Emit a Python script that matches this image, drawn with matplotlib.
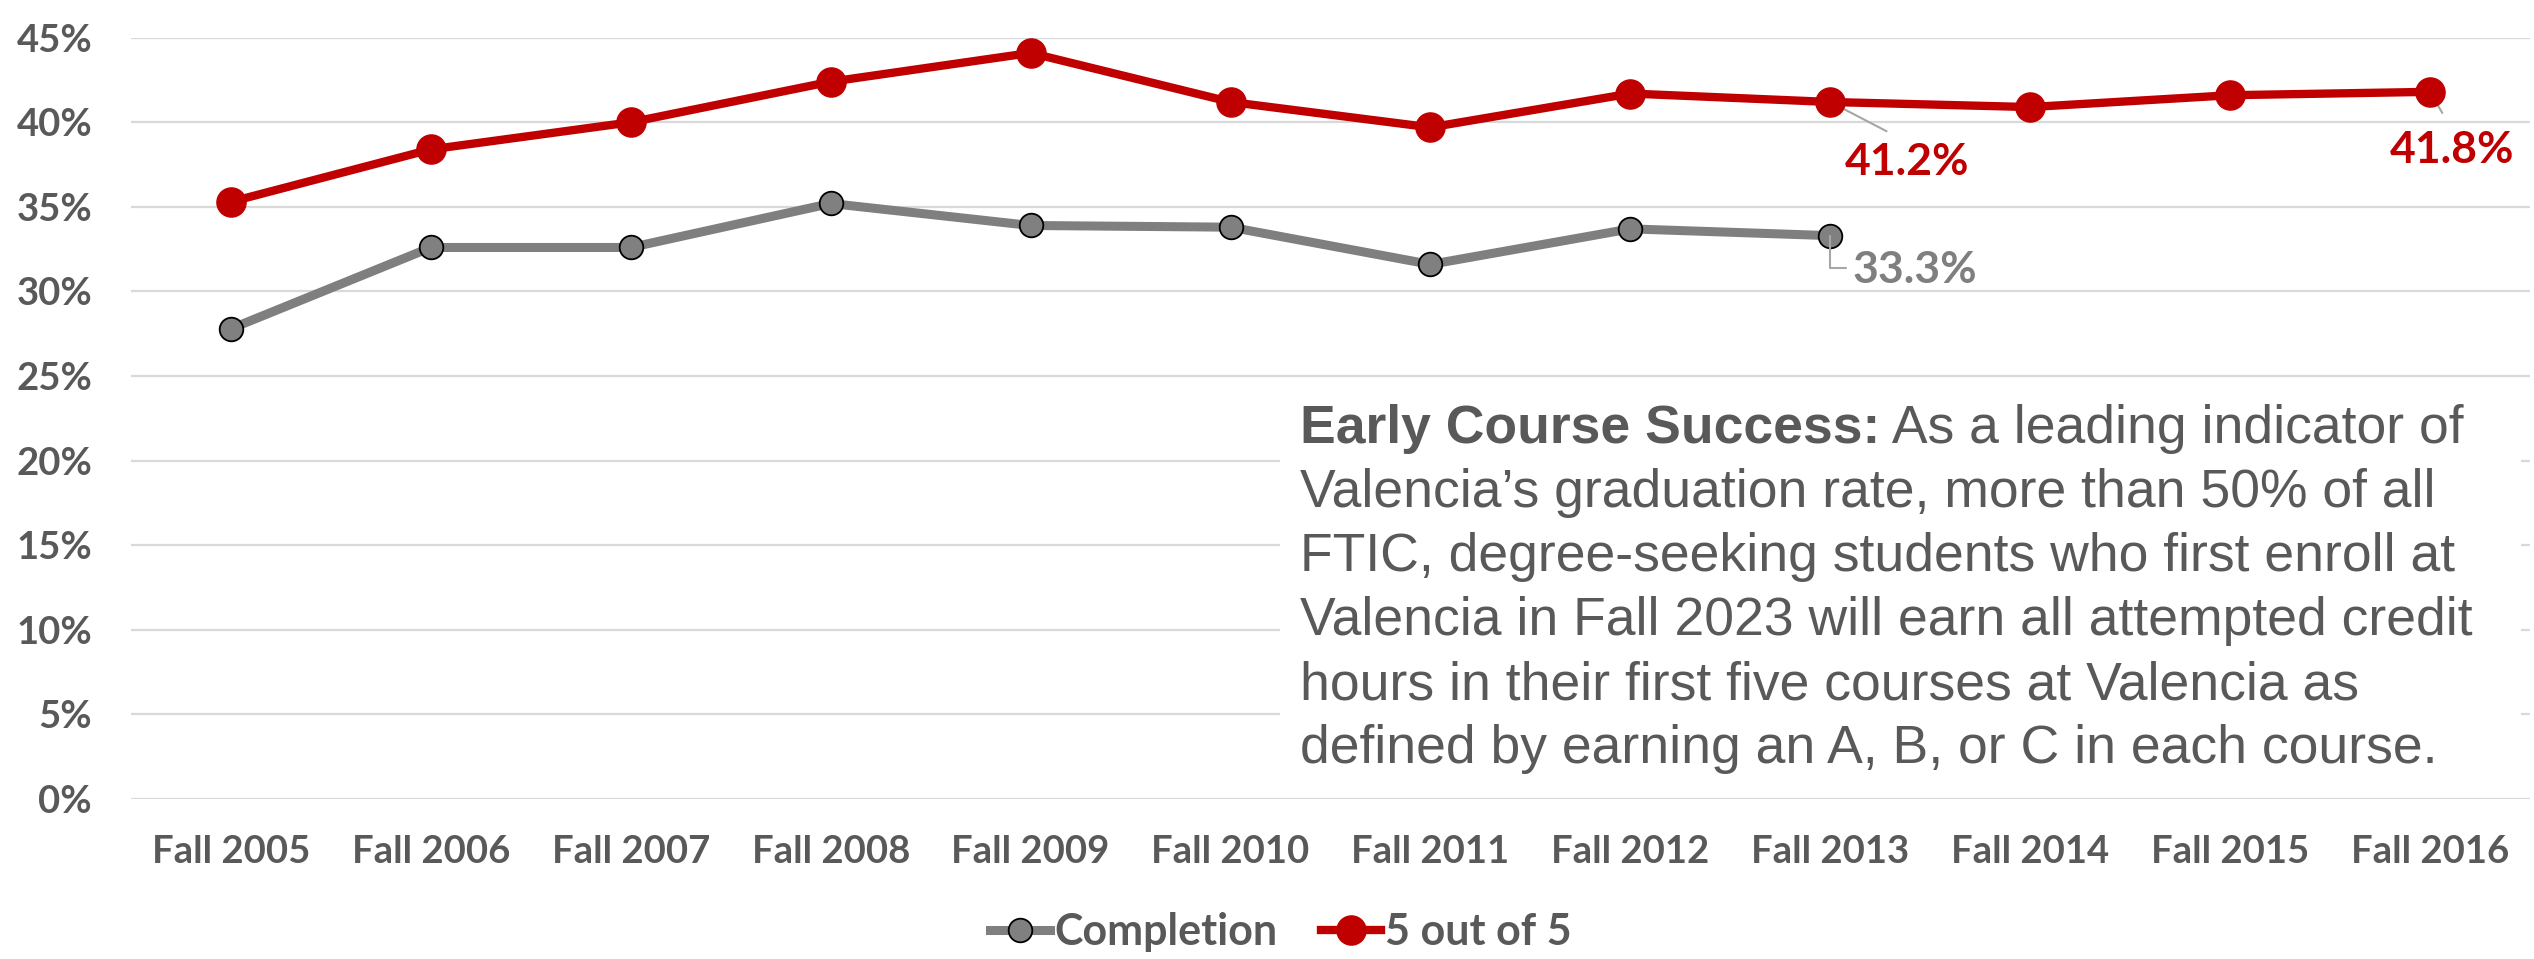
import matplotlib
matplotlib.use("Agg")
import matplotlib.pyplot as plt
from matplotlib.patches import Rectangle

categories = ["Fall 2005", "Fall 2006", "Fall 2007", "Fall 2008", "Fall 2009", "Fall 2010",
              "Fall 2011", "Fall 2012", "Fall 2013", "Fall 2014", "Fall 2015", "Fall 2016"]
five_of_five = [35.3, 38.4, 40.0, 42.4, 44.1, 41.2, 39.7, 41.7, 41.2, 40.9, 41.6, 41.8]
completion = [27.8, 32.6, 32.6, 35.2, 33.9, 33.8, 31.6, 33.7, 33.3]
y_ticks = [0, 5, 10, 15, 20, 25, 30, 35, 40, 45]

note_bold = "Early Course Success:"
note_lines = [
    " As a leading indicator of",
    "Valencia\u2019s graduation rate, more than 50% of all",
    "FTIC, degree-seeking students who first enroll at",
    "Valencia in Fall 2023 will earn all attempted credit",
    "hours in their first five courses at Valencia as",
    "defined by earning an A, B, or C in each course.",
]

W, H = 2534, 959
TXT = "#595959"
RED = "#C00000"
GRAY = "#7F7F7F"

fig = plt.figure(figsize=(W / 100, H / 100), dpi=100)
ax = fig.add_axes([131 / W, 1 - 799 / H, (2530 - 131) / W, (799 - 37.7) / H])

x_red = list(range(len(five_of_five)))
x_gray = list(range(len(completion)))

l_gray, = ax.plot(x_gray, completion, color=GRAY, lw=6.5, marker="o", ms=17,
                  mfc="#808080", mec="black", mew=1.3, label="Completion", zorder=3,
                  solid_joinstyle="round")
l_red, = ax.plot(x_red, five_of_five, color=RED, lw=6, marker="o", ms=21,
                 mfc=RED, mec=RED, label="5 out of 5", zorder=4, solid_joinstyle="round")

ax.set_xlim(-0.5, len(categories) - 0.5)
ax.set_ylim(0, 45)
ax.set_yticks(y_ticks)
ax.set_yticklabels([f"{v}%" for v in y_ticks])
ax.set_xticks(range(len(categories)))
ax.set_xticklabels(categories)
ax.grid(axis="y", color="#D9D9D9", lw=1.6)
ax.set_axisbelow(True)
for s in ax.spines.values():
    s.set_visible(False)
ax.tick_params(length=0)
ax.tick_params(axis="y", pad=28)
ax.tick_params(axis="x", pad=26)
for lab in ax.get_xticklabels() + ax.get_yticklabels():
    lab.set_fontfamily("Lato")
    lab.set_fontweight("bold")
    lab.set_fontsize(27.5)
    lab.set_color(TXT)

# data labels
lab_kw = dict(fontfamily="Lato", fontweight="bold", fontsize=32,
              textcoords="offset points", ha="center", va="center", annotation_clip=False)
ax.annotate(f"{five_of_five[8]:.1f}%", xy=(x_red[8], five_of_five[8]), xytext=(55, -43),
            color=RED, arrowprops=dict(arrowstyle="-", color="#A6A6A6", lw=1.5,
                                       relpos=(0.5, 1.0), shrinkA=12, shrinkB=0), **lab_kw)
ax.annotate(f"{five_of_five[11]:.1f}%", xy=(x_red[11], five_of_five[11]), xytext=(16, -42),
            color=RED, arrowprops=dict(arrowstyle="-", color="#A6A6A6", lw=1.5,
                                       relpos=(0.5, 1.0), shrinkA=12, shrinkB=0), **lab_kw)
ax.annotate(f"{completion[8]:.1f}%", xy=(x_gray[8], completion[8]), xytext=(61, -24.5),
            color=GRAY, arrowprops=dict(arrowstyle="-", color="#A6A6A6", lw=1.5,
                                        relpos=(0.0, 0.55), shrinkA=3, shrinkB=0,
                                        connectionstyle="angle,angleA=0,angleB=90,rad=0"),
            **lab_kw)

# white note box
fig.patches.append(Rectangle((1280 / W, 1 - 785 / H), (2521 - 1280) / W, (785 - 390) / H,
                             transform=fig.transFigure, facecolor="white", edgecolor="none",
                             zorder=1))

baselines = [443, 507, 571.5, 635.5, 700, 763.5]
x0 = 1300 / W
note_kw = dict(fontfamily="Liberation Sans", fontsize=38.5, color=TXT, va="baseline",
               ha="left", zorder=5)
tb = fig.text(x0, 1 - baselines[0] / H, note_bold, fontweight="bold", **note_kw)
fig.canvas.draw()
r = fig.canvas.get_renderer()
bb = tb.get_window_extent(renderer=r)
fig.text(bb.x1 / W, 1 - baselines[0] / H, note_lines[0], **note_kw)
for yb, line in zip(baselines[1:], note_lines[1:]):
    fig.text(x0, 1 - yb / H, line, **note_kw)

leg = fig.legend(handles=[l_gray, l_red], loc="center", bbox_to_anchor=(1281 / W, 1 - 932 / H),
                 ncol=2, frameon=False, handlelength=1.4, handletextpad=0.1,
                 columnspacing=1.0, prop=dict(family="Lato", weight="bold", size=31))
for t in leg.get_texts():
    t.set_color(TXT)

fig.savefig("out.png", dpi=100, facecolor="white")
